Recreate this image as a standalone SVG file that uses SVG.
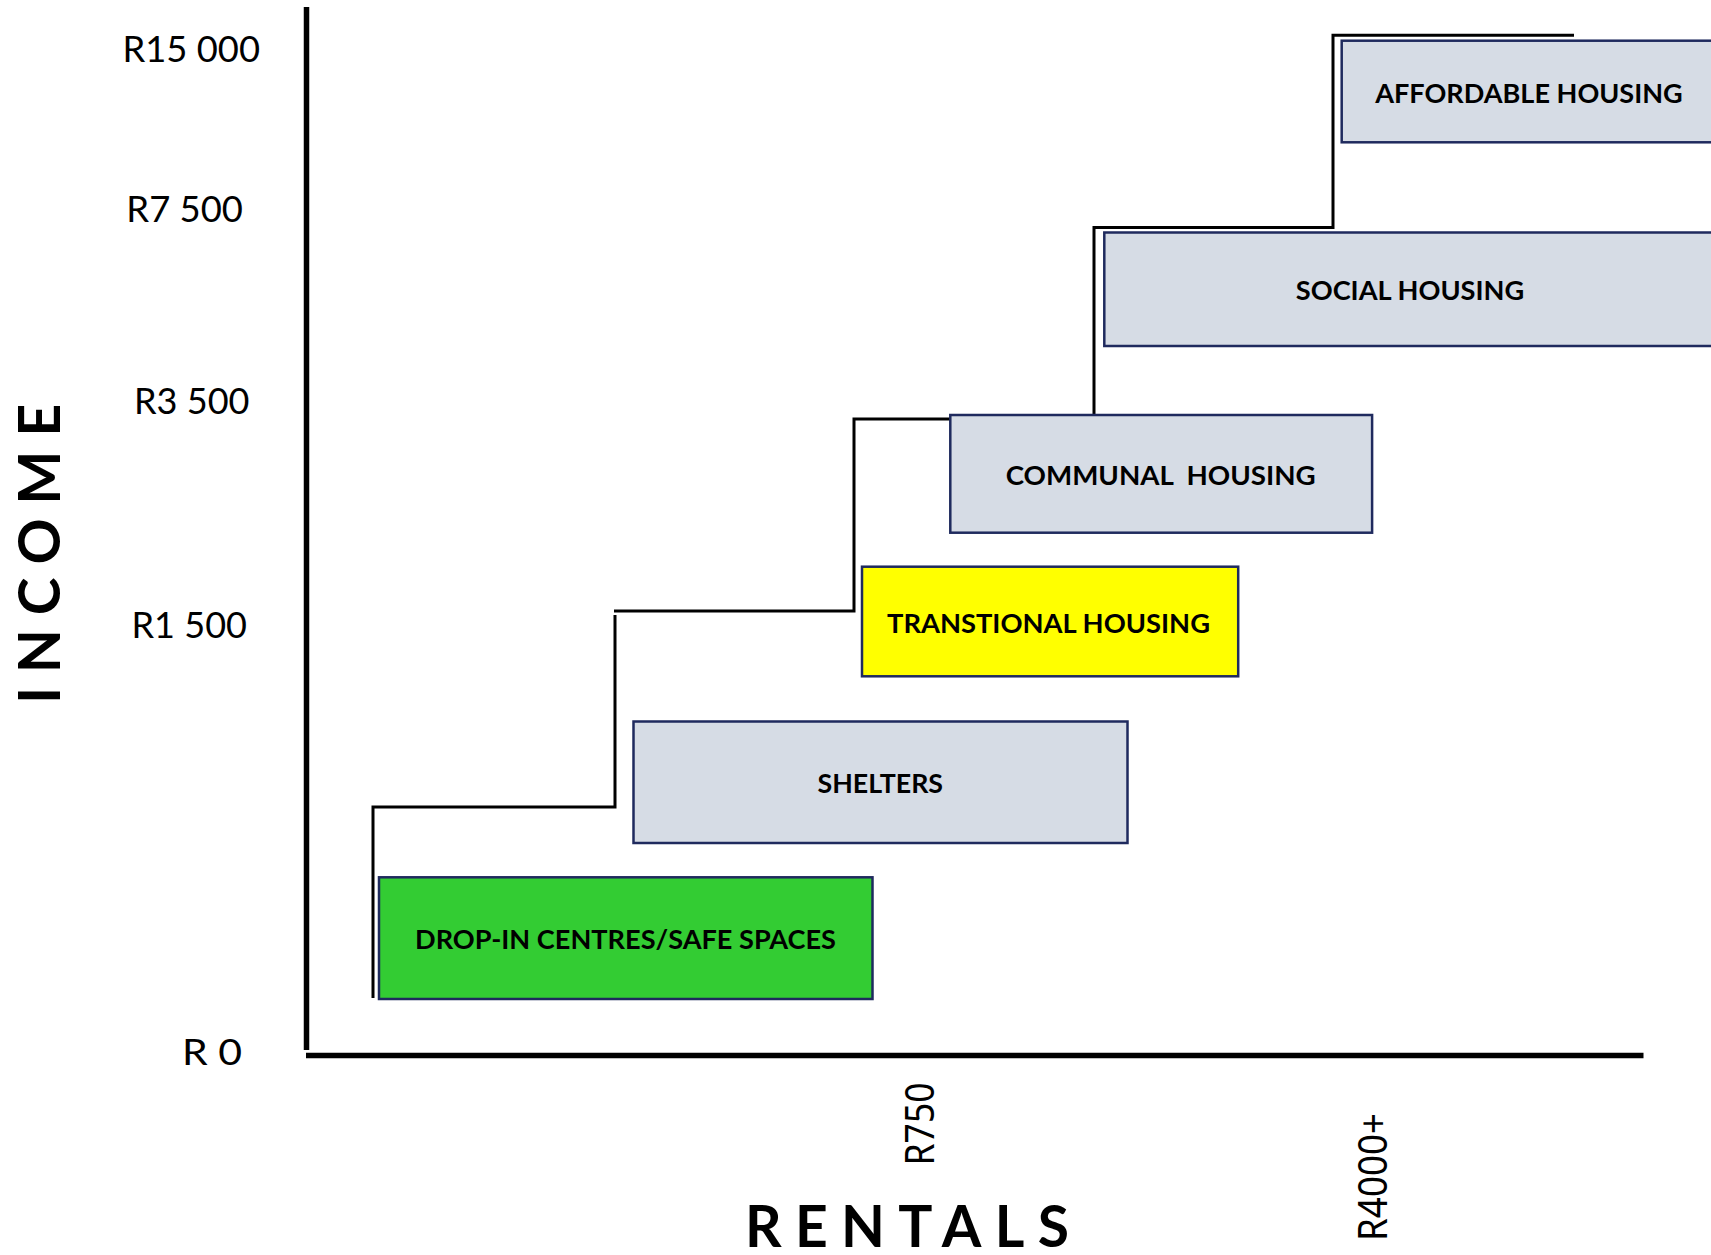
<svg xmlns="http://www.w3.org/2000/svg" width="1711" height="1255" viewBox="0 0 1711 1255">
<style>
.box{stroke:#1F2A5E;stroke-width:2.5}
.grey{fill:#D6DCE5}
.lbl{font-family:Lato,"Liberation Sans",sans-serif;font-weight:bold;font-size:27px;fill:#000;text-anchor:middle;white-space:pre}
.tick{font-family:Lato,"Liberation Sans",sans-serif;font-size:37px;fill:#000}
.axis{font-family:Lato,"Liberation Sans",sans-serif;font-weight:bold;font-size:57px;fill:#000}
.rot{font-family:"Noto Sans","Liberation Sans",sans-serif;font-size:40px;fill:#000}
.conn{fill:none;stroke:#000;stroke-width:3}
.ax{stroke:#000;stroke-width:5.5;fill:none}
</style>
<rect width="1711" height="1255" fill="#fff"/>
<g id="axes">
<line class="ax" x1="306.5" y1="7" x2="306.5" y2="1050"/>
<line class="ax" x1="306" y1="1055.5" x2="1643.5" y2="1055.5"/>
<text class="tick" x="122.5" y="61.7" textLength="137.5" lengthAdjust="spacingAndGlyphs">R15 000</text>
<text class="tick" x="126.3" y="221.7" textLength="116.7" lengthAdjust="spacingAndGlyphs">R7 500</text>
<text class="tick" x="134" y="414.3" textLength="115.5" lengthAdjust="spacingAndGlyphs">R3 500</text>
<text class="tick" x="131.5" y="637.5" textLength="115.5" lengthAdjust="spacingAndGlyphs">R1 500</text>
<text class="tick" x="182" y="1065" textLength="60" lengthAdjust="spacingAndGlyphs">R 0</text>
<text class="axis" transform="translate(60,703.8) rotate(-90)" x="0" y="0" textLength="300" lengthAdjust="spacing">INCOME</text>
<text class="axis" x="745" y="1247" textLength="324" lengthAdjust="spacing">RENTALS</text>
<text class="rot" transform="translate(934,1165.5) rotate(-90)" x="0" y="0" textLength="83" lengthAdjust="spacingAndGlyphs">R750</text>
<text class="rot" transform="translate(1387,1241) rotate(-90)" x="0" y="0" textLength="128" lengthAdjust="spacingAndGlyphs">R4000+</text>
</g>
<g id="connectors">
<path class="conn" d="M373,998 V807 H615 V615"/>
<path class="conn" d="M614,611 H854 V419 H950"/>
<path class="conn" d="M1094,414 V227.5 H1333 V35.3 H1574"/>
</g>
<g id="node-affordable">
<rect class="box grey" x="1341.7" y="40.7" width="380" height="101.6"/>
<text class="lbl" x="1529" y="102.5" textLength="307.5" lengthAdjust="spacingAndGlyphs">AFFORDABLE HOUSING</text>
</g>
<g id="node-social">
<rect class="box grey" x="1104.3" y="232.5" width="620" height="113.5"/>
<text class="lbl" x="1410" y="300" textLength="228.5" lengthAdjust="spacingAndGlyphs">SOCIAL HOUSING</text>
</g>
<g id="node-communal">
<rect class="box grey" x="950.3" y="415" width="421.8" height="117.7"/>
<text class="lbl" x="1160.7" y="485" textLength="310" lengthAdjust="spacingAndGlyphs">COMMUNAL  HOUSING</text>
</g>
<g id="node-transitional">
<rect class="box" fill="#FFFF00" x="862" y="566.7" width="376.2" height="109.6"/>
<text class="lbl" x="1048.5" y="632.5" textLength="323" lengthAdjust="spacingAndGlyphs">TRANSTIONAL HOUSING</text>
</g>
<g id="node-shelters">
<rect class="box grey" x="633.5" y="721.5" width="494" height="121.5"/>
<text class="lbl" x="880.3" y="792.7" textLength="125.5" lengthAdjust="spacingAndGlyphs">SHELTERS</text>
</g>
<g id="node-dropin">
<rect class="box" fill="#33CC33" x="379" y="877.3" width="493.5" height="121.7"/>
<text class="lbl" x="625.5" y="949.3" textLength="421" lengthAdjust="spacingAndGlyphs">DROP-IN CENTRES/SAFE SPACES</text>
</g>
</svg>
